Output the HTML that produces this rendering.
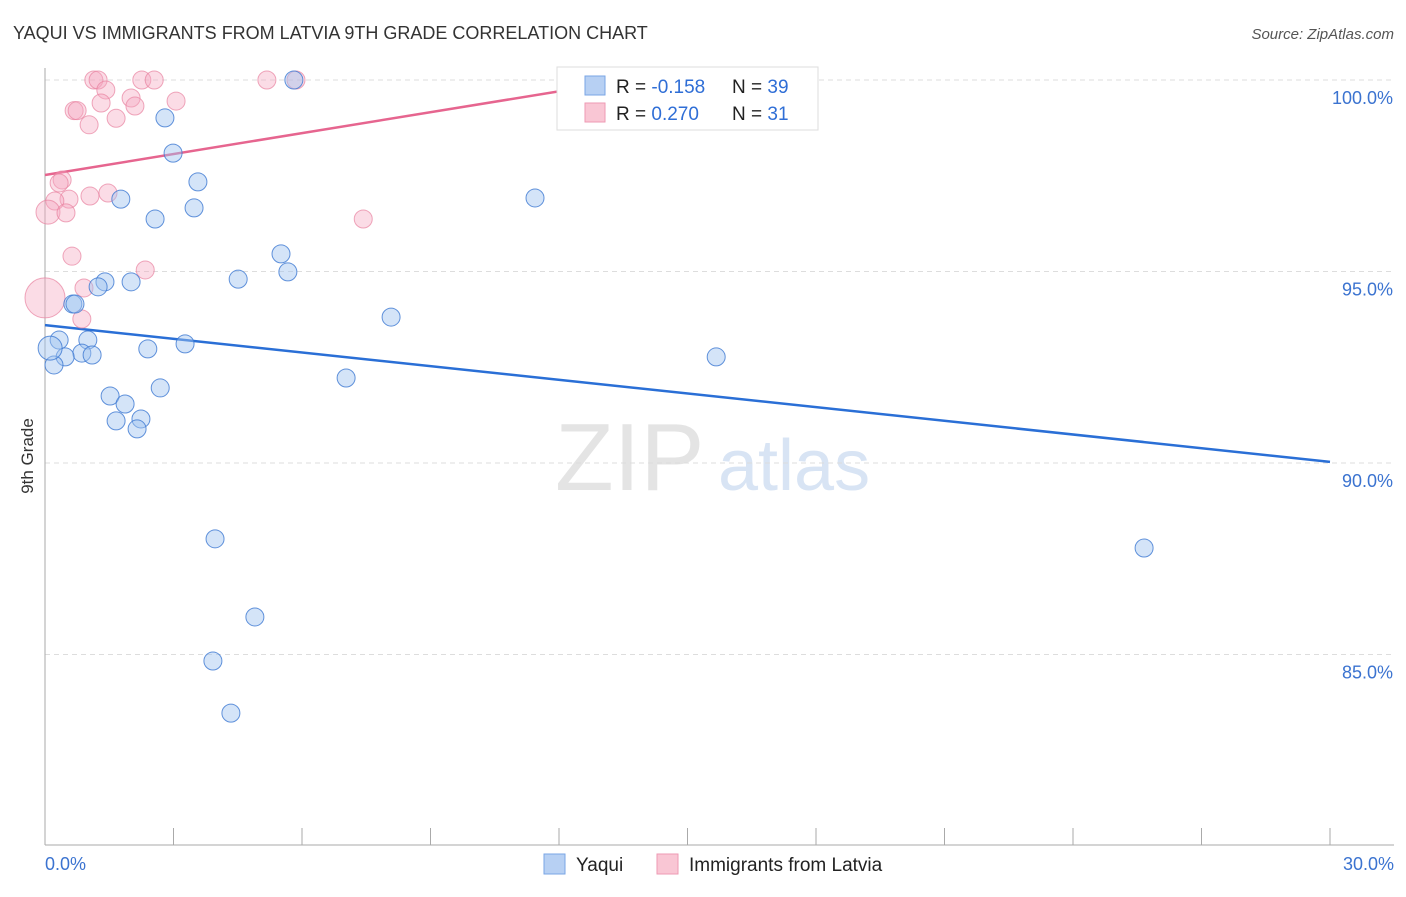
<!DOCTYPE html>
<html><head><meta charset="utf-8"><style>
body{margin:0;background:#fff;font-family:"Liberation Sans",sans-serif}
svg text{font-family:"Liberation Sans",sans-serif}
</style></head><body>
<svg id="chart" width="1406" height="892" xmlns="http://www.w3.org/2000/svg">
<text x="13" y="39" font-size="18" fill="#333">YAQUI VS IMMIGRANTS FROM LATVIA 9TH GRADE CORRELATION CHART</text>
<text x="1394" y="39" font-size="15" fill="#555" font-style="italic" text-anchor="end">Source: ZipAtlas.com</text>
<text transform="translate(33,456) rotate(-90)" font-size="17" fill="#333" text-anchor="middle">9th Grade</text>
<g><text x="555" y="490" font-size="96" fill="#e4e4e4" font-family="Liberation Serif">ZIP</text><text x="718" y="490" font-size="72" fill="#d8e4f4">atlas</text></g>
<g id="grid"></g><g id="axes"></g><g id="trend"></g><g id="pts"></g>
<g>
<rect x="557" y="67" width="261" height="63" fill="#fff" stroke="#ddd"/>
<rect x="585" y="76" width="20" height="19" fill="#b7d0f3" stroke="#7aa6e6"/>
<rect x="585" y="103" width="20" height="19" fill="#f9c6d4" stroke="#ee9ab3"/>
<text x="616" y="93" font-size="19" fill="#222">R = <tspan fill="#2f6ed6">-0.158</tspan></text>
<text x="732" y="93" font-size="19" fill="#222">N = <tspan fill="#2f6ed6">39</tspan></text>
<text x="616" y="120" font-size="19" fill="#222">R = <tspan fill="#2f6ed6"> 0.270</tspan></text>
<text x="732" y="120" font-size="19" fill="#222">N = <tspan fill="#2f6ed6"> 31</tspan></text>
</g>
<g>
<rect x="544" y="854" width="21" height="20" fill="#b7d0f3" stroke="#7aa6e6"/>
<text x="576" y="871" font-size="19" fill="#222">Yaqui</text>
<rect x="657" y="854" width="21" height="20" fill="#f9c6d4" stroke="#ee9ab3"/>
<text x="689" y="871" font-size="19" fill="#222">Immigrants from Latvia</text>
</g>
</svg>
<script>
const yTicks=[100,95,90,85];
const yTickLabels=["100.0%","95.0%","90.0%","85.0%"];
const xLabels=["0.0%","30.0%"];
const blueX=[5.81,2.80,2.99,3.57,1.77,3.48,2.57,11.44,5.51,5.67,4.51,2.01,1.40,1.24,0.65,0.70,8.08,0.33,1.00,3.27,2.40,0.86,1.10,0.47,0.21,15.67,7.03,2.69,1.52,1.87,2.24,1.66,2.15,3.97,25.66,4.90,3.92,4.34,0.12];
const blueY=[100.0,99.01,98.09,97.34,96.89,96.66,96.37,96.92,95.46,94.99,94.80,94.73,94.73,94.60,94.15,94.15,93.81,93.21,93.21,93.11,92.98,92.87,92.82,92.77,92.56,92.77,92.22,91.96,91.75,91.54,91.15,91.10,90.89,88.02,87.78,85.98,84.83,83.47,93.0];
const pinkX=[1.14,1.24,2.26,2.55,5.18,5.86,1.42,2.01,1.31,2.10,3.06,0.68,0.75,1.66,1.03,14.36,0.40,0.33,1.47,1.05,0.56,0.23,0.07,0.49,7.43,0.63,2.34,0.91,0.86,0.0];
const pinkY=[100,100,100,100,100,100,99.74,99.53,99.40,99.32,99.45,99.2,99.2,99.0,98.83,99.09,97.39,97.31,97.05,96.97,96.89,96.84,96.55,96.53,96.37,95.40,95.04,94.57,93.76,94.31];
const blueTrend=[[0,93.60],[30,90.03]];
const pinkTrend=[[0,97.52],[12.96,99.88]];
const X=v=>45+v/30*1285, Y=v=>80+(100-v)*38.3;
const NS="http://www.w3.org/2000/svg";
function mk(p,t,a){const e=document.createElementNS(NS,t);for(const k in a)e.setAttribute(k,a[k]);document.getElementById(p).appendChild(e);return e;}
yTicks.forEach((t,i)=>{
 const l=mk('grid','line',{x1:45,x2:1394,y1:Y(t),y2:Y(t),stroke:'#ddd','stroke-dasharray':'5,4'});
 
 
 const tx=mk('axes','text',{x:1393,y:Y(t)+24,'font-size':18,fill:'#3b73d0','text-anchor':'end'});tx.textContent=yTickLabels[i];
 
 
});
const ax=mk('axes','line',{x1:45,x2:45,y1:68,y2:845,stroke:'#aaa'});


const bx=mk('axes','line',{x1:45,x2:1394,y1:845,y2:845,stroke:'#aaa'});


for(let i=0;i<=10;i++){const t=mk('axes','line',{x1:X(i*3),x2:X(i*3),y1:828,y2:845,stroke:'#aaa'});
 
 }
[[0,45,'start'],[30,1394,'end']].forEach((d,i)=>{const t=mk('axes','text',{x:d[1],y:870,'font-size':18,fill:'#3b73d0','text-anchor':d[2]});t.textContent=xLabels[i];
 
 });
pinkX.forEach((x,i)=>{const c=mk('pts','circle',{cx:X(x),cy:Y(pinkY[i]),r:i==pinkX.length-1?20:(i==22?12:9),fill:'rgba(246,168,192,0.4)',stroke:'rgba(232,130,160,0.7)'});
 
 });
blueX.forEach((x,i)=>{const c=mk('pts','circle',{cx:X(x),cy:Y(blueY[i]),r:i==blueX.length-1?12:9,fill:'rgba(160,196,240,0.45)',stroke:'rgba(60,120,210,0.8)'});
 
 });
const bt=mk('trend','line',{x1:X(blueTrend[0][0]),y1:Y(blueTrend[0][1]),x2:X(blueTrend[1][0]),y2:Y(blueTrend[1][1]),stroke:'#2a6fd6','stroke-width':2.5});


const pt=mk('trend','line',{x1:X(pinkTrend[0][0]),y1:Y(pinkTrend[0][1]),x2:X(pinkTrend[1][0]),y2:Y(pinkTrend[1][1]),stroke:'#e6658f','stroke-width':2.5});


</script>
</body></html>
